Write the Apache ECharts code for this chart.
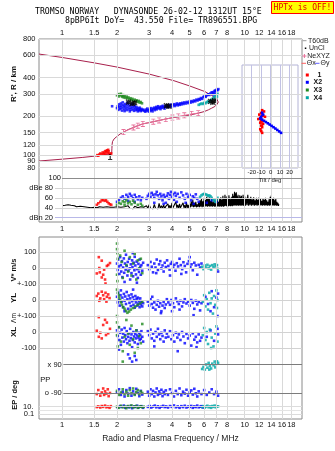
<!DOCTYPE html>
<html>
<head>
<meta charset="utf-8">
<script src="https://cdn.jsdelivr.net/npm/echarts@6/dist/echarts.min.js"></script>
<style>
  html, body { margin: 0; padding: 0; background: #fff; }
  #chart { width: 335px; height: 451px; }
</style>
</head>
<body>
<div id="chart"></div>
<script>
// ---------- axes ----------
const FMIN = 0.748, FMAX = 20.6;
const freqTicks = [1, 1.5, 2, 3, 4, 5, 6, 7, 8, 10, 12, 14, 16, 18];
const rangeTicks = [80, 90, 100, 120, 150, 200, 300, 400, 600, 800];
const tiltTicks = [-20, -10, 0, 10, 20];

// ---------- range panel: [frequency MHz, range km] ----------
const modelProfile = [0.748,90, 1.0,93, 1.3,96, 1.55,98.6, 1.76,101, 1.87,103.5, 1.875,112, 1.88,121, 1.89,127.5, 1.93,134, 1.99,139, 2.08,146, 2.17,151, 2.3,158, 2.46,164, 2.6,169.5, 2.77,175, 3.0,179, 3.16,182, 3.4,186, 3.66,190.5, 4.0,195, 4.52,200, 5.0,205, 5.57,212, 6.0,218, 6.33,225, 6.6,232, 6.87,239, 7.05,248, 7.17,258, 7.14,266, 7.03,274, 6.59,291, 6.06,312, 5.0,345, 4.1,379, 3.0,427, 2.0,484, 1.5,522, 1.0,575, 0.748,611];
const neXYZ = [2.17,151, 2.46,164, 2.6,169.5, 2.77,175, 3.16,182, 3.4,186, 3.7,190.6, 4.02,196, 4.33,200, 4.67,204, 5.12,209, 5.57,212];
const mode1Range = [1.56,100, 1.6,101, 1.62,103, 1.65,102, 1.67,105, 1.7,104, 1.72,107, 1.74,108, 1.75,106, 1.77,109, 1.78,104, 1.8,107, 1.82,103, 1.84,101, 1.86,103, 1.69,101, 1.73,102, 1.79,110, 1.58,99];
const x2Range = [1.88,240, 2.0,232, 2.02,240, 2.03,225, 2.05,248, 2.06,236, 2.08,228, 2.1,252, 2.1,242, 2.12,233, 2.13,222, 2.15,257, 2.16,245, 2.18,238, 2.19,228, 2.2,220, 2.22,250, 2.23,241, 2.25,232, 2.26,224, 2.28,255, 2.3,246, 2.31,236, 2.33,227, 2.35,219, 2.37,243, 2.38,233, 2.4,225, 2.42,250, 2.44,238, 2.46,228, 2.48,221, 2.5,242, 2.52,232, 2.54,224, 2.56,236, 2.58,227, 2.6,219, 2.62,231, 2.64,223, 2.66,234, 2.68,226, 2.7,220, 2.72,229, 2.75,223, 2.78,226,
  2.82,222, 2.85,218, 2.88,226, 2.9,220, 2.93,230, 2.96,223, 3.0,218, 3.02,228, 3.05,222, 3.08,232, 3.1,225, 3.13,219, 3.16,229, 3.2,234, 3.22,224, 3.25,230, 3.28,237, 3.3,227, 3.33,233, 3.36,240, 3.4,231, 3.43,236, 3.46,228, 3.5,239, 3.53,233, 3.56,242, 3.6,236, 3.64,230, 3.68,241,
  3.72,238, 3.76,243, 3.8,236, 3.85,245, 3.9,240, 3.95,247, 4.0,238, 4.05,244, 4.1,249, 4.15,241, 4.2,247, 4.25,252, 4.3,244, 4.35,250, 4.4,246, 4.45,253, 4.5,248, 4.56,255, 4.62,250, 4.68,257, 4.75,252, 4.82,259, 4.9,254, 4.98,261, 5.05,256, 5.12,263, 5.2,259, 5.28,266, 5.36,262, 5.44,270, 5.52,266, 5.6,273, 5.68,270, 5.76,278, 5.85,274, 5.94,283, 6.03,288, 6.12,284, 6.2,292, 6.3,297, 6.4,294, 6.5,302, 6.6,308, 6.7,305, 6.8,312, 6.88,318, 6.95,314, 7.02,322, 7.1,320, 7.18,326, 6.75,296, 6.9,300];
const x3Range = [2.0,292, 2.03,298, 2.05,286, 2.07,294, 2.1,300, 2.12,289, 2.14,284, 2.16,293, 2.18,281, 2.2,288, 2.23,279, 2.26,285, 2.28,276, 2.31,281, 2.34,272, 2.37,277, 2.4,269, 2.43,274, 2.46,266, 2.5,270, 2.53,263, 2.56,267, 2.6,260, 2.63,264, 2.66,256, 2.7,259, 2.74,253];
const x4Range = [5.6,246, 5.7,249, 5.8,252, 5.9,250, 6.0,255, 6.1,253, 6.2,258, 6.3,262, 6.4,258, 6.5,266, 6.6,270, 6.7,276, 6.8,282, 6.9,288, 7.0,294, 7.05,285, 7.1,300, 6.95,270];
const unclRange = [2.31,258, 2.42,252, 2.5,255, 3.73,242, 3.85,240, 6.5,262, 6.7,257, 6.85,265];
const mode1Tag = [1.83, 95];

// ---------- tilt inset: [tilt deg, range km] ----------
const thetaX = [-9,225, -7,220, -10,214, -12,208, -8,204, -6,200, -11,196, -13,192, -10,188, -9,184, -11,180, -8,176, -10,171, -9,166, -11,160, -10,155, -9,150];
const thetaY = [-9,215, -8,208, -10,200, -11,194, -9,190, -7,186, -5,182, -3,178, -1,174, 1,170, 3,166, 5,162, 7,158, 9,154, 11,150];

// ---------- amplitude panel: [frequency MHz, dB] ----------
const noiseDb = [1.0,44, 1.02,41, 1.04,45, 1.06,42, 1.08,46, 1.1,43, 1.12,45, 1.14,41, 1.17,44, 1.2,42, 1.23,46, 1.26,43, 1.29,45, 1.32,42, 1.35,44, 1.38,41, 1.41,43, 1.44,40, 1.47,43, 1.5,41, 1.53,44, 1.56,40, 1.6,42, 1.64,39, 1.68,41, 1.72,39, 1.76,42, 1.8,39, 1.84,41, 1.88,38, 1.92,41, 1.96,39, 2.0,42, 2.05,39, 2.1,41, 2.15,38, 2.2,42, 2.25,39, 2.3,44, 2.35,39, 2.4,41, 2.45,38, 2.5,43, 2.55,39, 2.6,40, 2.65,38, 2.7,42, 2.75,39, 2.8,41, 2.85,38, 2.9,44, 2.95,39, 3.0,46, 3.05,39, 3.1,42, 3.15,38, 3.2,47, 3.25,39, 3.3,43, 3.35,38, 3.4,49, 3.45,39, 3.5,44, 3.55,39, 3.6,46, 3.65,38, 3.7,43, 3.75,39, 3.8,48, 3.85,39, 3.9,45, 3.95,38, 4.0,50, 4.05,40, 4.1,44, 4.15,39, 4.2,52, 4.25,40, 4.3,46, 4.35,39, 4.4,48, 4.45,40, 4.5,44, 4.55,39, 4.6,50, 4.65,40, 4.7,45, 4.75,39, 4.8,51, 4.85,40, 4.9,46, 4.95,39,
  5.0,48, 5.05,41, 5.1,53, 5.15,42, 5.2,56, 5.25,41, 5.3,50, 5.35,42, 5.4,52, 5.45,41, 5.5,47, 5.55,42, 5.6,51, 5.65,41, 5.7,55, 5.75,42, 5.8,58, 5.85,41, 5.9,53, 5.95,42, 6.0,60, 6.05,42, 6.1,56, 6.15,43, 6.2,62, 6.25,42, 6.3,58, 6.35,43, 6.4,61, 6.45,42, 6.5,54, 6.55,43, 6.6,59, 6.65,42, 6.7,51, 6.75,43, 6.8,56, 6.85,42, 6.9,49, 6.95,43,
  7.0,54, 7.05,42, 7.1,57, 7.15,43, 7.2,52, 7.25,42, 7.3,58, 7.35,43, 7.4,61, 7.45,42, 7.5,56, 7.55,43, 7.6,64, 7.65,42, 7.7,59, 7.75,43, 7.8,66, 7.85,44, 7.9,60, 7.95,43, 8.0,63, 8.05,44, 8.1,58, 8.15,43, 8.2,65, 8.25,44, 8.3,60, 8.35,43, 8.4,57, 8.45,44, 8.5,62, 8.55,43, 8.6,68, 8.65,44, 8.7,64, 8.75,45, 8.8,72, 8.85,44, 8.9,69, 8.95,45, 9.0,71, 9.05,44, 9.1,63, 9.15,45, 9.2,66, 9.25,44, 9.3,60, 9.35,45, 9.4,65, 9.45,44, 9.5,62, 9.55,45, 9.6,64, 9.65,44, 9.7,59, 9.75,45, 9.8,66, 9.85,44, 9.9,61, 9.95,45,
  10.0,63, 10.1,44, 10.2,60, 10.3,45, 10.4,66, 10.5,44, 10.6,58, 10.7,45, 10.8,62, 10.9,44, 11.0,57, 11.1,45, 11.2,61, 11.3,44, 11.4,55, 11.5,45, 11.6,60, 11.7,44, 11.8,56, 11.9,45, 12.0,61, 12.1,44, 12.2,58, 12.3,45, 12.4,54, 12.5,44, 12.6,59, 12.7,45, 12.8,56, 12.9,44, 13.0,60, 13.1,45, 13.2,55, 13.3,44, 13.4,52, 13.5,45, 13.6,57, 13.7,44, 13.8,62, 13.9,45, 14.0,65, 14.1,44, 14.2,58, 14.3,45, 14.4,60, 14.5,44, 14.6,55, 14.7,45, 14.8,58, 14.9,44, 15.0,52, 15.1,45, 15.2,50, 15.3,44, 15.4,47];
const mode1Db = [1.55,46, 1.58,49, 1.62,52, 1.65,55, 1.68,56, 1.71,54, 1.74,55, 1.77,52, 1.8,49, 1.83,47, 1.86,46];
const x2Db = [2.0,52, 2.05,56, 2.1,60, 2.15,63, 2.2,58, 2.25,66, 2.3,62, 2.35,68, 2.4,64, 2.45,59, 2.5,66, 2.55,61, 2.6,57, 2.65,63, 2.7,55, 2.75,60, 2.3,54, 2.5,52, 2.9,58, 2.95,64, 3.0,68, 3.05,62, 3.1,70, 3.15,66, 3.2,60, 3.25,67, 3.3,72, 3.35,65, 3.4,58, 3.45,68, 3.5,63, 3.55,55, 3.6,66, 3.65,61, 3.7,50, 3.75,64, 3.8,69, 3.85,58, 3.9,66, 3.95,72, 4.0,62, 4.05,67, 4.1,56, 4.15,70, 4.2,64, 4.3,68, 4.4,60, 4.5,71, 4.6,65, 4.7,58, 4.8,68, 4.9,62, 5.0,66, 5.1,55, 5.2,63, 5.3,60, 5.4,67, 5.5,58, 5.6,52, 3.2,50, 3.6,48, 4.25,52, 4.75,50, 5.25,48, 6.2,50, 6.6,55, 7.0,52];
const x3Db = [2.0,46, 2.05,50, 2.1,48, 2.15,53, 2.2,51, 2.25,55, 2.3,49, 2.35,52, 2.4,47, 2.45,54, 2.5,50, 2.6,46, 2.7,48, 2.75,44, 2.2,45];
const x4Db = [5.7,62, 5.8,65, 5.9,67, 6.0,68, 6.1,67, 6.2,66, 6.3,64, 6.4,65, 6.5,63, 6.6,60, 6.7,57, 6.8,55, 6.9,52, 7.0,56, 7.1,60];

// ---------- Doppler velocity V* (m/s) ----------
const mode1V = [1.55,-32, 1.59,70, 1.61,-25, 1.65,48, 1.65,-57, 1.72,-70, 1.73,-95, 1.76,15, 1.79,21, 1.83,33, 1.7,-8, 1.6,2, 1.68,-40];
const x2V = [2.0,30, 2.02,-10, 2.03,55, 2.05,12, 2.06,-35, 2.08,70, 2.1,20, 2.11,-20, 2.13,45, 2.14,-55, 2.16,5, 2.18,62, 2.19,-28, 2.21,30, 2.23,-8, 2.24,85, 2.26,15, 2.28,-45, 2.29,40, 2.31,-15, 2.33,60, 2.35,0, 2.36,-70, 2.38,25, 2.4,-30, 2.42,50, 2.43,8, 2.45,-50, 2.47,35, 2.49,-12, 2.5,72, 2.52,18, 2.54,-38, 2.56,42, 2.58,-5, 2.6,-60, 2.62,28, 2.64,-22, 2.66,55, 2.68,10, 2.7,-40, 2.72,20, 2.75,-15, 2.78,35, 2.2,-85, 2.44,95, 2.57,-90,
  2.95,20, 3.0,-5, 3.05,40, 3.1,10, 3.15,-25, 3.2,30, 3.25,5, 3.3,55, 3.35,-10, 3.4,25, 3.45,45, 3.5,0, 3.55,18, 3.6,-20, 3.65,35, 3.7,8, 3.76,50, 3.82,15, 3.88,-8, 3.94,28, 4.0,40, 4.06,5, 4.12,22, 4.18,-15, 4.25,32, 4.32,12, 4.4,60, 4.47,20, 4.55,-5, 4.62,38, 4.7,15, 4.78,-25, 4.86,28, 4.95,45, 5.04,8, 5.12,25, 5.2,-12, 5.3,35, 5.4,18, 5.5,-40, 5.6,22, 5.7,5, 5.8,30, 3.28,-30, 3.9,-45, 4.5,-35, 5.0,70, 7.15,-20];
const x3V = [2.0,155, 2.0,120, 2.01,95, 2.02,60, 2.0,-40, 2.01,-80, 2.05,-110, 2.08,80, 2.12,40, 2.15,-60, 2.2,110, 2.25,20, 2.3,-20, 2.35,70, 2.4,-45, 2.45,30, 2.5,90, 2.55,-70, 2.6,50, 2.65,0, 2.7,60, 2.75,-30];
const x4V = [5.85,10, 5.95,-5, 6.05,18, 6.15,5, 6.25,22, 6.35,0, 6.45,15, 6.55,-8, 6.65,20, 6.75,8, 6.85,25, 6.95,12, 7.05,20, 7.1,-3];

// ---------- YL ----------
const mode1YL = [1.55,25, 1.58,40, 1.62,10, 1.65,52, 1.68,30, 1.7,5, 1.73,45, 1.76,20, 1.79,35, 1.82,12, 1.6,-5, 1.75,-10];
const x2YL = [2.0,20, 2.02,-15, 2.03,45, 2.05,0, 2.07,-35, 2.09,30, 2.1,60, 2.12,-10, 2.14,15, 2.16,-45, 2.18,38, 2.2,-5, 2.22,22, 2.24,-25, 2.26,50, 2.28,5, 2.3,-55, 2.32,28, 2.34,-18, 2.36,10, 2.38,-38, 2.4,35, 2.42,-8, 2.44,18, 2.46,-30, 2.48,0, 2.5,-48, 2.52,25, 2.54,-15, 2.56,8, 2.58,-35, 2.6,15, 2.62,-22, 2.64,-5, 2.66,-45, 2.68,10, 2.7,-28, 2.72,-12, 2.75,-40, 2.78,-20, 2.2,-70, 2.45,65,
  2.95,-10, 3.0,-35, 3.05,5, 3.1,-25, 3.15,-48, 3.2,-15, 3.25,-60, 3.3,-30, 3.35,-5, 3.4,-42, 3.45,-20, 3.5,-70, 3.55,-35, 3.6,-12, 3.65,-50, 3.7,-28, 3.12,20, 3.48,-82,
  3.75,5, 3.82,-15, 3.9,-30, 3.97,0, 4.05,-20, 4.12,-45, 4.2,10, 4.28,-8, 4.36,-25, 4.45,-5, 4.54,-40, 4.62,-15, 4.7,5, 4.8,-22, 4.9,-10, 5.0,-35, 5.1,0, 5.2,-18, 5.3,-55, 5.4,-5, 5.5,-28, 5.6,-12, 5.7,-65, 5.8,-20, 4.0,-70, 5.25,-95, 4.4,-60,
  6.1,20, 6.3,-25, 6.6,55, 6.8,-45, 7.0,15, 7.15,40, 6.5,-70, 7.1,-100];
const x3YL = [2.0,65, 2.02,45, 2.04,30, 2.06,15, 2.08,0, 2.1,-15, 2.13,-30, 2.16,-45, 2.2,-55, 2.24,-68, 2.28,-80, 2.33,-72, 2.38,-60, 2.45,-50, 2.52,-40, 2.6,-30, 2.68,-20, 2.75,-10, 2.0,-100, 2.0,-120];
const x4YL = [5.9,-10, 6.0,30, 6.1,-40, 6.2,5, 6.3,-60, 6.4,45, 6.5,-20, 6.6,10, 6.7,-85, 6.8,25, 6.9,-30, 7.0,60, 7.05,-50, 7.1,0];

// ---------- XL ----------
const mode1XL = [1.59,93, 1.72,76, 1.76,59, 1.68,44, 1.55,8, 1.59,-30, 1.65,-40, 1.74,-19, 1.79,-8, 1.62,-5, 1.83,20];
const x2XL = [2.0,10, 2.02,-25, 2.04,30, 2.06,-50, 2.08,-5, 2.1,-80, 2.12,15, 2.14,-35, 2.16,-10, 2.18,-60, 2.2,25, 2.22,-20, 2.24,-45, 2.26,5, 2.28,-70, 2.3,-30, 2.32,-8, 2.34,-55, 2.36,20, 2.38,-38, 2.4,-15, 2.42,-95, 2.44,-50, 2.46,0, 2.48,-28, 2.5,-65, 2.52,-12, 2.54,-40, 2.56,10, 2.58,-22, 2.6,-75, 2.62,-35, 2.64,-5, 2.66,-50, 2.68,-18, 2.7,-42, 2.72,5, 2.75,-30, 2.78,-60, 2.05,-110, 2.3,-140, 2.35,-165, 2.5,-150, 2.55,-175, 2.42,-185,
  2.95,5, 3.0,-20, 3.05,15, 3.1,-40, 3.15,-10, 3.2,-55, 3.25,0, 3.3,-30, 3.35,20, 3.4,-15, 3.45,-45, 3.5,-5, 3.55,-25, 3.6,-60, 3.65,10, 3.7,-35, 3.2,-90,
  3.75,-10, 3.82,-30, 3.9,5, 3.97,-45, 4.05,-20, 4.12,-60, 4.2,-5, 4.28,-35, 4.36,-15, 4.45,-50, 4.54,0, 4.62,-28, 4.7,-70, 4.8,-12, 4.9,-40, 5.0,-22, 5.1,-85, 5.2,-8, 5.3,-48, 5.4,-30, 5.5,-65, 5.6,-15, 5.7,-55, 5.8,-35, 4.3,-120, 5.45,-95,
  6.2,-30, 6.5,10, 6.8,-55, 7.1,20, 7.15,-15];
const x3XL = [2.0,60, 2.0,-20, 2.02,-90, 2.05,30, 2.1,-60, 2.15,-120, 2.2,-30, 2.25,75, 2.3,-10, 2.35,-80, 2.4,40, 2.45,-45, 2.5,-130, 2.55,10, 2.6,-100, 2.65,-25, 2.7,-70, 2.75,50, 2.15,-185];
const x4XL = [5.9,-20, 6.0,25, 6.1,-50, 6.2,0, 6.3,-75, 6.45,15, 6.6,-35, 6.75,-90, 6.9,-10, 7.0,35, 7.1,-60, 6.55,-100];

// ---------- polarisation PP (deg) ----------
const mode1PP = [1.55,-95, 1.58,-70, 1.62,-105, 1.65,-85, 1.68,-60, 1.7,-100, 1.72,-78, 1.75,-92, 1.78,-65, 1.8,-108, 1.83,-88];
const x2PP = [2.0,-85, 2.05,-65, 2.1,-100, 2.15,-80, 2.2,-110, 2.25,-70, 2.3,-92, 2.35,-58, 2.4,-105, 2.45,-78, 2.5,-95, 2.55,-62, 2.6,-88, 2.65,-108, 2.7,-75, 2.75,-98,
  2.95,-80, 3.0,-105, 3.05,-65, 3.1,-95, 3.15,-75, 3.2,-110, 3.25,-85, 3.3,-60, 3.35,-100, 3.4,-78, 3.45,-92, 3.5,-68, 3.55,-108, 3.6,-82, 3.65,-95, 3.7,-72,
  3.8,-100, 3.9,-65, 4.0,-88, 4.1,-110, 4.2,-75, 4.3,-95, 4.4,-60, 4.5,-102, 4.6,-80, 4.7,-92, 4.8,-68, 4.9,-105, 5.0,-85, 5.1,-72, 5.2,-98, 5.3,-62, 5.4,-90, 5.5,-110, 5.6,-78, 5.8,-95, 6.0,-70, 6.2,-100, 6.4,-85, 6.6,-65, 6.8,-95, 7.0,-80, 7.15,-105];
const x3PP = [2.0,-75, 2.05,-100, 2.1,-85, 2.15,-65, 2.2,-95, 2.25,-80, 2.3,-105, 2.35,-70, 2.4,-90, 2.45,-60, 2.5,-100, 2.55,-82, 2.6,-70, 2.65,-95, 2.7,-78, 2.75,-88];
const x4PP = [5.85,62, 5.95,75, 6.05,58, 6.15,90, 6.25,70, 6.35,100, 6.45,80, 6.55,65, 6.65,95, 6.75,85, 6.85,108, 6.95,92, 7.05,110, 7.15,100, 6.4,58, 6.9,72];

// ---------- EP (deg) ----------
const mode1EP = [1.55,8, 1.58,12, 1.62,6, 1.65,15, 1.68,9, 1.72,20, 1.75,7, 1.78,11, 1.82,5, 1.85,14];
const x2EP = [2.02,6, 2.08,14, 2.12,9, 2.18,20, 2.22,5, 2.28,11, 2.32,7, 2.38,16, 2.42,4, 2.48,12, 2.52,8, 2.58,18, 2.62,6, 2.68,10, 2.72,14, 2.78,5, 2.95,9, 3.02,15, 3.08,6, 3.15,11, 3.22,20, 3.28,7, 3.35,13, 3.42,5, 3.5,10, 3.58,17, 3.65,8, 3.72,12, 3.8,6, 3.9,15, 4.0,9, 4.1,22, 4.2,7, 4.3,12, 4.4,5, 4.5,14, 4.6,8, 4.7,18, 4.8,6, 4.9,11, 5.0,9, 5.1,16, 5.2,5, 5.3,12, 5.4,8, 5.5,20, 5.6,7, 5.7,10, 5.8,14, 5.9,6];
const x3EP = [2.0,10, 2.05,5, 2.1,18, 2.15,7, 2.2,12, 2.25,4, 2.3,15, 2.35,8, 2.4,22, 2.45,6, 2.5,11, 2.55,16, 2.6,5, 2.65,9, 2.7,13, 2.75,7, 2.8,10];
const x4EP = [5.85,8, 5.95,14, 6.05,6, 6.15,11, 6.25,18, 6.35,7, 6.45,12, 6.55,5, 6.65,15, 6.75,9, 6.85,20, 6.95,7, 7.05,11, 7.15,13];

// ---------- styling ----------
const FONT = '"Liberation Sans", Arial, sans-serif';
const MONO = '"DejaVu Sans Mono", monospace';
const C = { red: '#ff0000', blue: '#0000ff', green: '#1f8a1f', teal: '#00a6a6', model: '#a8204c', ne: '#e8709a',
            grid: '#d9d9d9', frame: '#8a8a8a', lav: '#c2c2e4' };

const pairs = a => { const out = []; for (let i = 0; i < a.length; i += 2) out.push([a[i], a[i + 1]]); return out; };
const lab = (text, pos, dist, size) => ({ show: true, position: pos, distance: dist, formatter: String(text),
  color: '#111', fontSize: size || 7.5, fontFamily: FONT });
const hLine = (y, x0, x1, color, label) => { const a = { coord: [x0, y], lineStyle: { color } }; if (label) a.label = label; return [a, { coord: [x1, y] }]; };
const vLine = (x, y0, y1, color, label) => { const a = { coord: [x, y0], lineStyle: { color } }; if (label) a.label = label; return [a, { coord: [x, y1] }]; };
const guides = (xi, yi, data, z) => ({
  type: 'line', xAxisIndex: xi, yAxisIndex: yi, data: [], silent: true, z: z || 1,
  markLine: { silent: true, symbol: ['none', 'none'], animation: false, precision: 4,
    label: { show: false }, lineStyle: { type: 'solid', width: 1, color: C.grid }, data }
});
const dots = (xi, yi, data, color, size, z) => ({
  type: 'scatter', xAxisIndex: xi, yAxisIndex: yi, data: pairs(data), symbol: 'rect',
  symbolSize: size || 2.6, itemStyle: { color }, silent: true, z: z || 3
});
const NONE = 'rgba(0,0,0,0)';

// ---------- grids ----------
const L = 39, W = 263;
const grids = [
  { left: L, top: 39, width: W, height: 183, show: true, borderColor: C.frame, borderWidth: 1 }, // 0 range + frame
  { left: L, top: 168, width: W, height: 54 },                                                   // 1 amplitude
  { left: L, top: 237, width: W, height: 182, show: true, borderColor: C.frame, borderWidth: 1 }, // 2 lower frame
  { left: L, top: 237, width: W, height: 47 },   // 3 V*
  { left: L, top: 284, width: W, height: 32 },   // 4 YL
  { left: L, top: 316, width: W, height: 48 },   // 5 XL
  { left: L, top: 350, width: W, height: 50 },   // 6 PP
  { left: L, top: 400, width: W, height: 19 },   // 7 EP
  { left: 242, top: 65, width: 56, height: 103, show: true, backgroundColor: '#fff', borderColor: '#b4b4d6', borderWidth: 1, z: 4 } // 8 tilt
];
const xAxes = [];
for (let i = 0; i < 8; i++) xAxes.push({ gridIndex: i, type: 'log', logBase: 10, min: FMIN, max: FMAX, show: false });
xAxes[2] = { gridIndex: 2, type: 'log', min: FMIN, max: FMAX, axisLine: { show: false }, axisTick: { show: false },
  axisLabel: { show: false }, splitLine: { show: false },
  name: 'Radio and Plasma Frequency / MHz', nameLocation: 'middle', nameGap: 15,
  nameTextStyle: { fontSize: 8.5, color: '#222', fontFamily: FONT } };
xAxes.push({ gridIndex: 8, type: 'value', min: -30.3, max: 28.9, axisLine: { show: false }, axisTick: { show: false },
  axisLabel: { show: false }, splitLine: { show: false },
  name: 'Tilt / deg', nameLocation: 'middle', nameGap: 9, nameTextStyle: { fontSize: 6, color: '#222', fontFamily: FONT }, z: 5 });

const yAxes = [
  { gridIndex: 0, type: 'log', min: 30.2, max: 800, show: false },
  { gridIndex: 1, type: 'value', min: 11.4, max: 120, show: false },
  { gridIndex: 2, type: 'value', min: 0, max: 1, show: false },
  { gridIndex: 3, type: 'value', min: -98, max: 196, show: false },
  { gridIndex: 4, type: 'value', min: -100, max: 100, show: false },
  { gridIndex: 5, type: 'value', min: -200, max: 100, show: false },
  { gridIndex: 6, type: 'value', min: -132, max: 180.5, show: false },
  { gridIndex: 7, type: 'log', min: 0.0043, max: 685, show: false },
  { gridIndex: 8, type: 'log', min: 80, max: 505, show: false }
];

// ---------- reference lines and tick labels ----------
const series = [
  guides(0, 0, [
    ...freqTicks.map(f => vLine(f, 30.2, 800, C.grid, lab(f, 'end', 2))),
    ...rangeTicks.map(r => hLine(r, FMIN, FMAX, C.grid, lab(r, 'start', 3.5)))
  ]),
  guides(1, 1, [
    ...freqTicks.map(f => vLine(f, 11.4, 120, NONE, lab(f, 'start', 2.5))),
    hLine(100, 1.0, FMAX, '#8c8c8c', lab('100', 'start', 1)),
    hLine(80, 0.915, FMAX, '#d4d4d4', lab('dBe 80', 'start', 2)),
    hLine(60, 0.915, FMAX, '#d4d4d4', lab('60', 'start', 2)),
    hLine(40, 0.915, FMAX, '#d4d4d4', lab('40', 'start', 2)),
    hLine(20, 0.915, FMAX, '#b8b8e8', lab('dBn 20', 'start', 2))
  ]),
  guides(2, 2, freqTicks.map(f => vLine(f, 0, 1, C.grid, lab(f, 'start', 2)))),
  guides(3, 3, [hLine(100, FMIN, FMAX, '#d2d2d2', lab('100', 'start', 2.5)), hLine(0, FMIN, FMAX, '#d2d2d2', lab('0', 'start', 2.5))]),
  guides(4, 4, [hLine(100, FMIN, FMAX, '#d2d2d2', lab('+-100', 'start', 2.5)), hLine(0, FMIN, FMAX, '#d2d2d2', lab('0', 'start', 2.5)),
                hLine(-100, FMIN, FMAX, '#d2d2d2', lab('+-100', 'start', 2.5))]),
  guides(5, 5, [hLine(0, FMIN, FMAX, '#d2d2d2', lab('0', 'start', 2.5)), hLine(-100, FMIN, FMAX, '#d2d2d2', lab('-100', 'start', 2.5))]),
  guides(6, 6, [hLine(90, 1.017, FMAX, '#7c7c7c', lab('x 90', 'start', 1.6)), hLine(-90, 1.017, FMAX, '#7c7c7c', lab('o -90', 'start', 1.6)),
                hLine(-7, 0.885, 0.9, NONE, lab('PP', 'start', 2))]),
  guides(7, 7, [hLine(10, FMIN, FMAX, '#dcdcdc', lab('10.', 'start', 5.5)), hLine(1, FMIN, FMAX, '#e4e4e4'),
                hLine(0.1, FMIN, FMAX, '#dcdcdc', lab('0.1', 'start', 4.8))]),
  guides(8, 8, tiltTicks.map(t => vLine(t, 80, 505, C.lav, lab(t, 'start', 1.5, 6))), 5)
];

// ---------- range panel data ----------
series.push(
  { type: 'line', xAxisIndex: 0, yAxisIndex: 0, data: pairs(modelProfile), showSymbol: false, silent: true, z: 2,
    lineStyle: { color: C.model, width: 1 } },
  { type: 'line', xAxisIndex: 0, yAxisIndex: 0, data: pairs(neXYZ), silent: true, z: 2,
    symbol: 'path://M0,0H6V1.2H3.6V6.8H6V8H0V6.8H2.4V1.2H0Z', symbolSize: [4, 6],
    itemStyle: { color: C.ne }, lineStyle: { color: C.ne, width: 1 } },
  dots(0, 0, mode1Range, C.red),
  dots(0, 0, x2Range, C.blue),
  dots(0, 0, x3Range, C.green),
  dots(0, 0, x4Range, C.teal),
  { type: 'scatter', xAxisIndex: 0, yAxisIndex: 0, data: pairs(unclRange), silent: true, z: 4,
    symbol: 'path://M0,0L10,10M10,0L0,10M5,0L5,10M0,5L10,5', symbolSize: 5,
    itemStyle: { color: NONE, borderColor: '#000', borderWidth: 1.2 } },
  { type: 'scatter', xAxisIndex: 0, yAxisIndex: 0, data: [mode1Tag], symbolSize: 0, silent: true, z: 4,
    label: { show: true, position: 'inside', formatter: '1', color: '#000', fontSize: 9, fontWeight: 'bold', fontFamily: FONT } }
);

// ---------- tilt inset ----------
series.push(
  { type: 'line', xAxisIndex: 8, yAxisIndex: 8, data: pairs(thetaX), symbol: 'rect', symbolSize: 2.6, silent: true, z: 6,
    itemStyle: { color: C.red }, lineStyle: { color: C.red, width: 1 } },
  { type: 'line', xAxisIndex: 8, yAxisIndex: 8, data: pairs(thetaY), symbol: 'rect', symbolSize: 2.6, silent: true, z: 6,
    itemStyle: { color: C.blue }, lineStyle: { color: C.blue, width: 1 } }
);

// ---------- amplitude panel ----------
series.push(
  { type: 'line', xAxisIndex: 1, yAxisIndex: 1, data: pairs(noiseDb), showSymbol: false, silent: true, z: 2,
    lineStyle: { color: '#000', width: 1.1 } },
  dots(1, 1, mode1Db, C.red), dots(1, 1, x2Db, C.blue), dots(1, 1, x3Db, C.green), dots(1, 1, x4Db, C.teal)
);

// ---------- lower panels ----------
[[3, mode1V, x2V, x3V, x4V], [4, mode1YL, x2YL, x3YL, x4YL], [5, mode1XL, x2XL, x3XL, x4XL],
 [6, mode1PP, x2PP, x3PP, x4PP], [7, mode1EP, x2EP, x3EP, x4EP]].forEach(([g, r, b, gr, t]) => {
  series.push(dots(g, g, r, C.red), dots(g, g, b, C.blue), dots(g, g, gr, C.green), dots(g, g, t, C.teal));
});

// ---------- header, side titles, key ----------
const txt = (x, y, text, font, fill, align) => ({ type: 'text', x, y, silent: true,
  style: { text, font, fill: fill || '#000', align: align || 'left', verticalAlign: 'middle' } });
const vtxt = (x, y, text, font) => ({ type: 'text', x, y, rotation: Math.PI / 2, silent: true,
  style: { text, font, fill: '#111', align: 'center', verticalAlign: 'middle' } });
const keyLine = (x1, x2, y, color) => ({ type: 'line', silent: true, shape: { x1, y1: y, x2, y2: y }, style: { stroke: color, lineWidth: 1 } });
const keyBox = (x, y, color) => ({ type: 'rect', silent: true, shape: { x: x - 1.5, y: y - 1.5, width: 3, height: 3 }, style: { fill: color } });
const KF = '7px ' + FONT;
const KB = 'bold 7px ' + FONT;

const graphic = [
  txt(35, 12.3, 'TROMSO NORWAY   DYNASONDE 26-02-12 1312UT 15°E', '8.2px ' + MONO),
  txt(65, 20.7, '8pBP6It DoY=  43.550 File= TR896551.BPG', '8.2px ' + MONO),
  { type: 'rect', silent: true, shape: { x: 271.5, y: 1.5, width: 62, height: 12 }, style: { fill: '#ffff00', stroke: '#ff0000', lineWidth: 1 } },
  txt(302.5, 7.7, 'HPTx is OFF!', '8px ' + MONO, '#e00000', 'center'),
  vtxt(14, 84, "R', R / km", 'bold 8px ' + FONT),
  vtxt(14, 270, 'V* m/s', 'bold 7.5px ' + FONT),
  vtxt(14, 298, 'YL', 'bold 8px ' + FONT),
  vtxt(14, 318, 'Λm', '6.5px ' + FONT),
  vtxt(14, 332, 'XL', 'bold 8px ' + FONT),
  vtxt(14.5, 395, 'EP / deg', 'bold 7.5px ' + FONT),
  keyLine(302.5, 306.5, 40.7, '#9a9a9a'), txt(308, 40.7, 'T60dB', KF, '#222'),
  { type: 'rect', silent: true, shape: { x: 304.8, y: 47.5, width: 1.5, height: 1.5 }, style: { fill: '#000' } }, txt(309, 48.3, 'UnCl', KF, '#222'),
  keyLine(302.3, 306.5, 56, C.ne), { type: 'line', silent: true, shape: { x1: 304.4, y1: 54, x2: 304.4, y2: 58 }, style: { stroke: C.ne, lineWidth: 1 } },
  txt(307.3, 56, 'NeXYZ', KF, '#222'),
  keyLine(301.5, 306, 63.3, '#ff6060'), txt(306.8, 63.3, 'Θx', KF, '#222'),
  keyLine(315, 319.5, 63.3, '#6060ff'), txt(320.5, 63.3, 'Θy', KF, '#222'),
  keyBox(307.3, 75, C.red), txt(317.5, 75, '1', KB, '#111'),
  keyBox(307.3, 82.3, C.blue), txt(313.5, 82.3, 'X2', KB, '#111'),
  keyBox(307.3, 90, C.green), txt(313.5, 90, 'X3', KB, '#111'),
  keyBox(307.3, 97.7, C.teal), txt(313.5, 97.7, 'X4', KB, '#111')
];

const chart = echarts.init(document.getElementById('chart'), null, { renderer: 'canvas' });
chart.setOption({
  backgroundColor: '#fff',
  animation: false,
  textStyle: { fontFamily: FONT },
  grid: grids,
  xAxis: xAxes,
  yAxis: yAxes,
  series,
  graphic
});
</script>
</body>
</html>
